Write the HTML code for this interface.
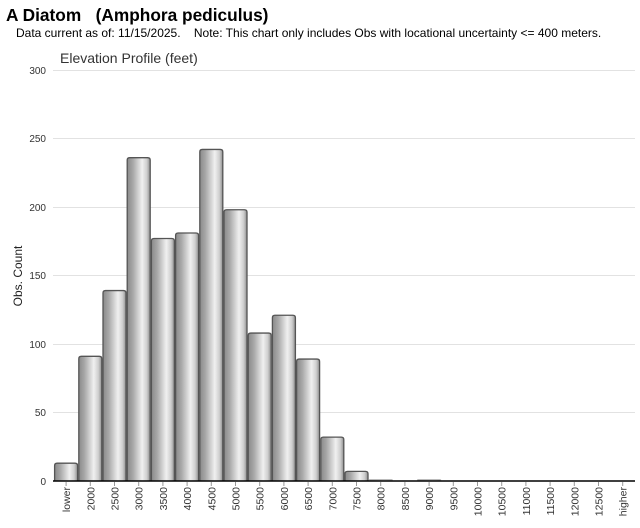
<!DOCTYPE html>
<html><head><meta charset="utf-8"><style>
body{margin:0;background:#fff;width:640px;height:523px;overflow:hidden}
</style></head><body>
<svg width="640" height="523" xmlns="http://www.w3.org/2000/svg" font-family="Liberation Sans, sans-serif">
<defs>
<linearGradient id="g" x1="0" x2="1" y1="0" y2="0">
<stop offset="0" stop-color="#8a8a8a"/>
<stop offset="0.25" stop-color="#a8a8a8"/>
<stop offset="0.65" stop-color="#f0f0f0"/>
<stop offset="0.85" stop-color="#cfcfcf"/>
<stop offset="1" stop-color="#8f8f8f"/>
</linearGradient>
</defs>
<text x="6" y="21" font-size="17.3" font-weight="bold">A Diatom &#160; (Amphora pediculus)</text>
<text x="16" y="37" font-size="12">Data current as of: 11/15/2025. &#160;&#160; Note: This chart only includes Obs with locational uncertainty &lt;= 400 meters.</text>
<text x="60" y="63" font-size="14" fill="#333">Elevation Profile (feet)</text>
<text x="22" y="276" font-size="12" fill="#222" text-anchor="middle" transform="rotate(-90 22 276)">Obs. Count</text>
<g stroke="#e2e2e2" stroke-width="1">
<line x1="53" x2="635" y1="70.5" y2="70.5"/>
<line x1="53" x2="635" y1="138.5" y2="138.5"/>
<line x1="53" x2="635" y1="207.5" y2="207.5"/>
<line x1="53" x2="635" y1="275.5" y2="275.5"/>
<line x1="53" x2="635" y1="344.5" y2="344.5"/>
<line x1="53" x2="635" y1="412.5" y2="412.5"/>
</g>
<g font-size="10" fill="#333" text-anchor="end">
<text x="46" y="74">300</text><text x="46" y="142">250</text><text x="46" y="211">200</text>
<text x="46" y="279">150</text><text x="46" y="348">100</text><text x="46" y="416">50</text><text x="46" y="485">0</text>
</g>
<g id="bars" stroke="#555" stroke-width="1.3" fill="url(#g)"></g>
<line x1="53" x2="635" y1="481" y2="481" stroke="#000" stroke-width="1.5"/>
<g id="lab" font-size="10.5" fill="#333" text-anchor="end"></g>
<g id="ticks" stroke="#999"></g>
</svg>
<script>
var vals=[13,91,139,236,177,181,242,198,108,121,89,32,7,1,0,1,0,0,0,0,0,0,0,0];
var labs=["lower"];for(var v=2000;v<=12500;v+=500)labs.push(""+v);labs.push("higher");
var ns="http://www.w3.org/2000/svg",b=document.getElementById("bars"),l=document.getElementById("lab"),t=document.getElementById("ticks");
for(var i=0;i<24;i++){
 var cx=54+24.2*(i+0.5);
 if(vals[i]>0){var h=vals[i]*1.37;var r=document.createElementNS(ns,"path");
 var x0=cx-11.5,x1=cx+11.5,y=481-h,rr=Math.min(2.5,h/2);
 r.setAttribute("d","M"+x0+",481 L"+x0+","+(y+rr)+" Q"+x0+","+y+" "+(x0+rr)+","+y+" L"+(x1-rr)+","+y+" Q"+x1+","+y+" "+x1+","+(y+rr)+" L"+x1+",481");
 if(vals[i]<=1){r.setAttribute("stroke","#bbb");}
 b.appendChild(r);}
 var tx=document.createElementNS(ns,"text");tx.setAttribute("x",cx+4);tx.setAttribute("y",487);
 tx.setAttribute("transform","rotate(-90 "+(cx+4)+" 487)");tx.textContent=labs[i];l.appendChild(tx);
 var tk=document.createElementNS(ns,"line");tk.setAttribute("x1",cx);tk.setAttribute("x2",cx);tk.setAttribute("y1",482);tk.setAttribute("y2",486);t.appendChild(tk);
}
</script>
</body></html>
